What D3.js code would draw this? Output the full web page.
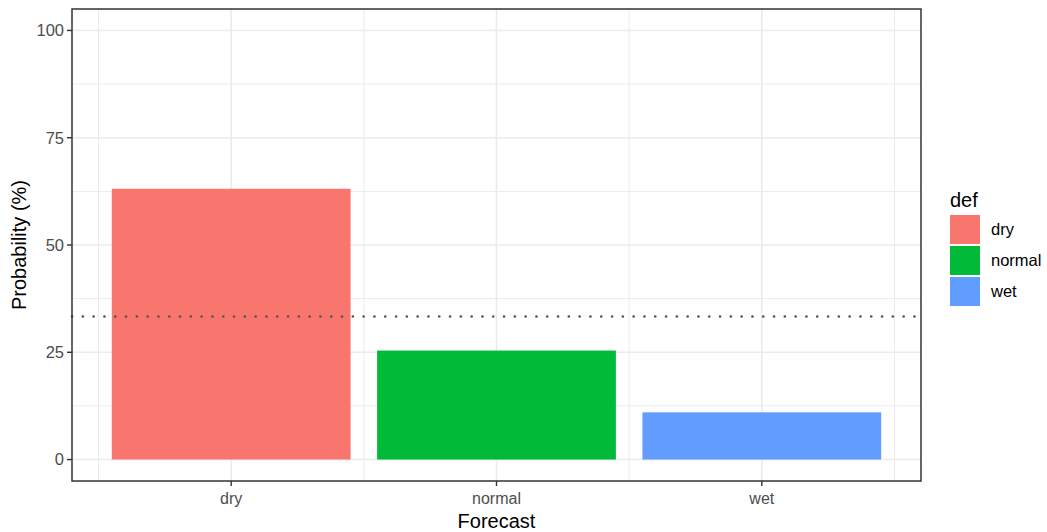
<!DOCTYPE html>
<html>

<head>
  <meta charset="utf-8">
  <style>
    body { margin: 0; background: #fff; }
    text { font-family: "Liberation Sans", Arial, sans-serif; }
  </style>
</head>

<body>
  <script src="https://d3js.org/d3.v7.min.js"></script>
  <script>
    var categories = ["dry", "normal", "wet"];
    var probs = [63.1, 25.4, 11.0];
    var colors = ["#F8766D", "#00BA38", "#619CFF"];
    var yTicks = [0, 25, 50, 75, 100];
    var yMinor = [12.5, 37.5, 62.5, 87.5];
    var climatology = 100 / 3;

    var W = 1047, H = 532;
    var panel = { left: 72, right: 921, top: 9, bottom: 481 };

    var svg = d3.select("body").append("svg")
      .attr("width", W)
      .attr("height", H);

    // discrete axis with 0.6 expansion on each side like ggplot
    var unit = (panel.right - panel.left) / (categories.length - 1 + 1.2);
    var x = d3.scalePoint()
      .domain(categories)
      .range([panel.left + 0.6 * unit, panel.right - 0.6 * unit]);

    var y = d3.scaleLinear()
      .domain([-5, 105])
      .range([panel.bottom, panel.top]);

    var g = svg.append("g");

    // minor grid
    g.selectAll(".hminor").data(yMinor).enter().append("line")
      .attr("x1", panel.left).attr("x2", panel.right)
      .attr("y1", d => y(d)).attr("y2", d => y(d))
      .attr("stroke", "#EBEBEB").attr("stroke-width", 1);

    var xMinor = d3.range(categories.length + 1).map(i => x(categories[0]) - unit / 2 + i * unit);
    g.selectAll(".vminor").data(xMinor).enter().append("line")
      .attr("x1", d => d).attr("x2", d => d)
      .attr("y1", panel.top).attr("y2", panel.bottom)
      .attr("stroke", "#EBEBEB").attr("stroke-width", 1);

    // major grid
    g.selectAll(".hmajor").data(yTicks).enter().append("line")
      .attr("x1", panel.left).attr("x2", panel.right)
      .attr("y1", d => y(d)).attr("y2", d => y(d))
      .attr("stroke", "#EBEBEB").attr("stroke-width", 1.6);

    g.selectAll(".vmajor").data(categories).enter().append("line")
      .attr("x1", d => x(d)).attr("x2", d => x(d))
      .attr("y1", panel.top).attr("y2", panel.bottom)
      .attr("stroke", "#EBEBEB").attr("stroke-width", 1.6);

    // bars
    var bw = unit * 0.9;
    g.selectAll(".bar").data(categories).enter().append("rect")
      .attr("x", d => x(d) - bw / 2)
      .attr("width", bw)
      .attr("y", (d, i) => y(probs[i]))
      .attr("height", (d, i) => y(0) - y(probs[i]))
      .attr("fill", (d, i) => colors[i]);

    // climatology line
    g.append("line")
      .attr("x1", panel.left).attr("x2", panel.right)
      .attr("y1", y(climatology)).attr("y2", y(climatology))
      .attr("stroke", "#555")
      .attr("stroke-width", 2.6)
      .attr("stroke-linecap", "round")
      .attr("stroke-dasharray", "0.1,10.7");

    // panel border
    g.append("rect")
      .attr("x", panel.left).attr("y", panel.top)
      .attr("width", panel.right - panel.left)
      .attr("height", panel.bottom - panel.top)
      .attr("fill", "none")
      .attr("stroke", "#333")
      .attr("stroke-width", 1.5);

    // y axis ticks and labels
    yTicks.forEach(function(t) {
      g.append("line")
        .attr("x1", panel.left - 5).attr("x2", panel.left)
        .attr("y1", y(t)).attr("y2", y(t))
        .attr("stroke", "#333").attr("stroke-width", 1.4);
      g.append("text")
        .attr("x", panel.left - 8).attr("y", y(t))
        .attr("dy", "0.36em")
        .attr("text-anchor", "end")
        .attr("font-size", 16.5)
        .attr("fill", "#4D4D4D")
        .text(t);
    });

    // x axis ticks and labels
    categories.forEach(function(c) {
      g.append("line")
        .attr("x1", x(c)).attr("x2", x(c))
        .attr("y1", panel.bottom).attr("y2", panel.bottom + 5)
        .attr("stroke", "#333").attr("stroke-width", 1.4);
      g.append("text")
        .attr("x", x(c)).attr("y", panel.bottom + 23)
        .attr("text-anchor", "middle")
        .attr("font-size", 16)
        .attr("fill", "#4D4D4D")
        .text(c);
    });

    // axis titles
    svg.append("text")
      .attr("x", (panel.left + panel.right) / 2)
      .attr("y", 528)
      .attr("text-anchor", "middle")
      .attr("font-size", 20)
      .attr("fill", "#000")
      .text("Forecast");

    svg.append("text")
      .attr("transform", "translate(26," + ((panel.top + panel.bottom) / 2) + ") rotate(-90)")
      .attr("text-anchor", "middle")
      .attr("font-size", 20)
      .attr("fill", "#000")
      .text("Probability (%)");

    // legend
    var lg = svg.append("g").attr("transform", "translate(950,0)");
    lg.append("text")
      .attr("x", 0).attr("y", 207)
      .attr("font-size", 20)
      .text("def");
    categories.forEach(function(c, i) {
      lg.append("rect")
        .attr("x", 0).attr("y", 215 + i * 31)
        .attr("width", 30).attr("height", 29)
        .attr("fill", colors[i]);
      lg.append("text")
        .attr("x", 41).attr("y", 215 + i * 31 + 14.5)
        .attr("dy", "0.36em")
        .attr("font-size", 16.5)
        .attr("fill", "#000")
        .text(c);
    });
  </script>
</body>

</html>
